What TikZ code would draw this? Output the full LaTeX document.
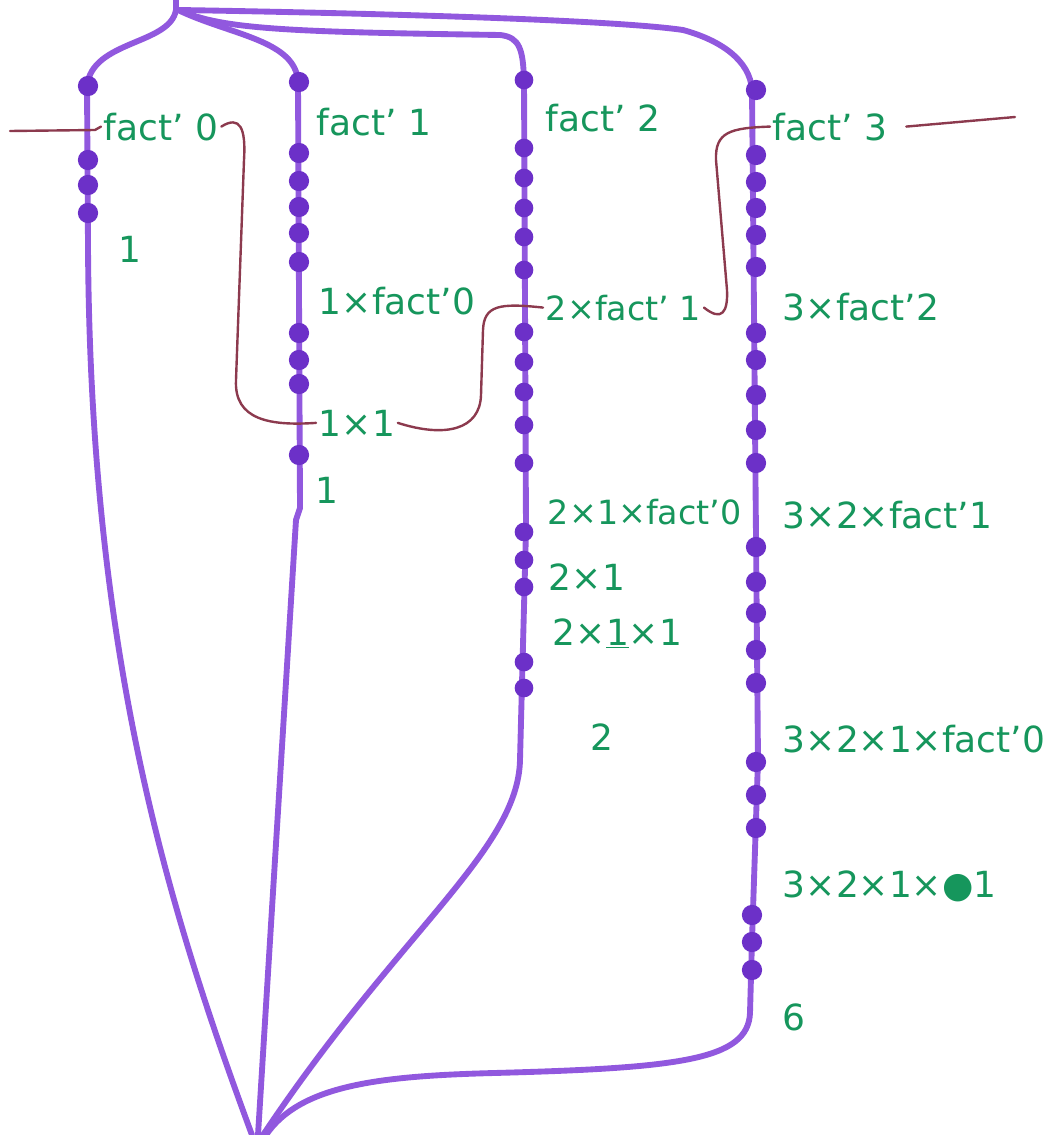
\documentclass[tikz,border=0pt]{standalone}
\usepackage{fontspec}
\newfontfamily\hand{DejaVu Sans}
\definecolor{threadc}{RGB}{145,88,222}
\definecolor{beadc}{RGB}{108,48,200}
\definecolor{inkc}{RGB}{22,150,92}
\definecolor{wirec}{RGB}{140,58,78}
\tikzset{
  threadline/.style={draw=threadc, line width=4.4pt, line cap=round, line join=round},
  wireline/.style={draw=wirec, line width=1.8pt, line cap=round},
  lbl/.style={text=inkc, font=\hand\fontsize{27}{32}\selectfont, anchor=base west, inner xsep=2pt, inner ysep=1pt},
  lbls/.style={lbl, font=\hand\fontsize{25}{30}\selectfont},
  bead/.style={fill=beadc}
}
\begin{document}
\begin{tikzpicture}[x=0.75pt,y=-0.75pt]
\useasboundingbox (0,0) rectangle (1048,1135);
% threads
\draw[threadline] (176,0) -- (176,10) .. controls (170,45) and (92,40) .. (87,86) -- (88,245) .. controls (90,650) and (165,900) .. (252,1135);
\draw[threadline] (178,10) .. controls (230,35) and (296,40) .. (298,82) -- (300,508) -- (296,520) -- (258,1135);
\draw[threadline] (180,10) .. controls (220,30) and (300,32) .. (500,35) .. controls (520,37) and (523,50) .. (524,80) -- (526,530) -- (520,760) .. controls (518,850) and (400,930) .. (263,1135);
\draw[threadline] (180,10) .. controls (300,12) and (600,18) .. (683,30) .. controls (720,40) and (750,60) .. (752,90) -- (758,760) -- (752,940) -- (750,1013) .. controls (748,1060) and (680,1068) .. (494,1073) .. controls (380,1076) and (300,1085) .. (266,1135);
% beads
\foreach \y in {86,160,185,213} \fill[bead] (88,\y) circle[radius=7.6pt];
\foreach \y in {82,153,181,207,233,262,333,360,384,455} \fill[bead] (299,\y) circle[radius=7.6pt];
\foreach \y in {80,148,178,208,237,270,332,362,392,425,463,532,560,587,662,688} \fill[bead] (524,\y) circle[radius=7pt];
\foreach \y in {90,155,182,208,235,267,333,360,395,430,463,547,582,613,650,683,762,795,828} \fill[bead] (756,\y) circle[radius=7.6pt];
\foreach \y in {915,942,970} \fill[bead] (752,\y) circle[radius=7.6pt];
% labels
\node[lbl] (a0) at (101,140) {fact’ 0};
\node[lbl] (a1) at (116,262) {1};
\node[lbl] (b0) at (314,135) {fact’ 1};
\node[lbl] (b1) at (316,314) {1×fact’0};
\node[lbl] (b2) at (316,436) {1×1};
\node[lbl] (b3) at (313,503) {1};
\node[lbl] (c0) at (543,131) {fact’ 2};
\node[lbls] (c1) at (543,320) {2×fact’ 1};
\node[lbls] (c2) at (545,524) {2×1×fact’0};
\node[lbl] (c3) at (546,590) {2×1};
\node[lbl] (c4) at (550,645) {2×\underline{1}×1};
\node[lbl] (c5) at (588,750) {2};
\node[lbl] (d0) at (770,140) {fact’ 3};
\node[lbl] (d1) at (780,320) {3×fact’2};
\node[lbl] (d2) at (780,528) {3×2×fact’1};
\node[lbl] (d3) at (780,752) {3×2×1×fact’0};
\node[lbl] (d4) at (780,897) {3×2×1×●1};
\node[lbl] (d5) at (780,1030) {6};
% wires
\coordinate (w0) at (10,131);
\coordinate (w9) at (1015,117);
\draw[wireline] (w0) -- (95,130) -- (a0.west);
\draw[wireline] (a0.east) .. controls (240,115) and (246,128) .. (244,160) -- (236,380) .. controls (234,420) and (270,426) .. (b2.west);
\draw[wireline] (b2.east) .. controls (445,438) and (480,430) .. (481,395) -- (483,330) .. controls (484,305) and (500,303) .. (c1.west);
\draw[wireline] (c1.east) .. controls (722,322) and (728,312) .. (727,290) -- (716,160) .. controls (715,132) and (730,128) .. (d0.west);
\draw[wireline] ([xshift=12pt]d0.east) -- (w9);
\end{tikzpicture}
\end{document}
